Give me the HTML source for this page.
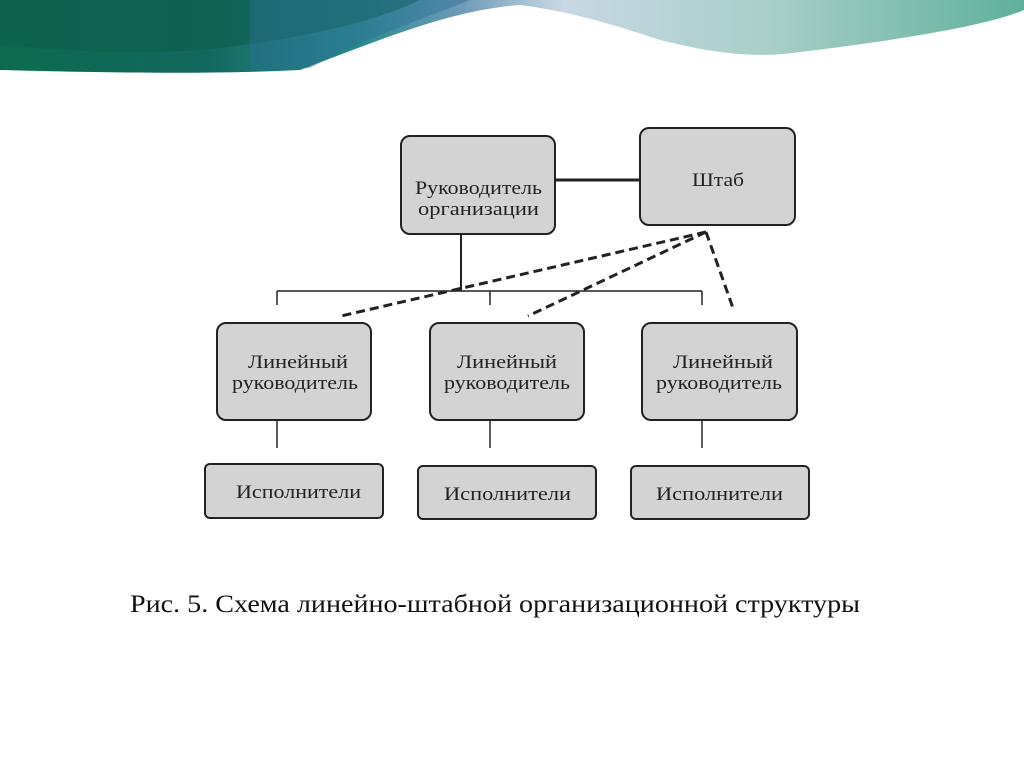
<!DOCTYPE html>
<html><head><meta charset="utf-8"><style>
html,body{margin:0;padding:0;width:1024px;height:768px;background:#fff;overflow:hidden}
svg{position:absolute;left:0;top:0}
</style></head><body>
<svg width="1024" height="768" viewBox="0 0 1024 768" font-family="Liberation Serif, serif">
<defs>
<linearGradient id="g1" x1="0" y1="0" x2="1" y2="0">
<stop offset="0" stop-color="#0d6a4e"/><stop offset="0.2" stop-color="#12685e"/><stop offset="0.35" stop-color="#2a8a8c"/><stop offset="0.45" stop-color="#6f9ab8"/><stop offset="0.55" stop-color="#c8d8e4"/><stop offset="0.75" stop-color="#a9cfc8"/><stop offset="1" stop-color="#5fb09c"/>
</linearGradient>
</defs>
<path d="M0 0 H1024 V10 C990 25 900 40 800 52 C760 58 720 55 660 40 C600 20 560 10 520 5 C450 10 380 40 300 70 C200 75 80 72 0 70 Z" fill="url(#g1)"/>
<path d="M0 0 H420 C380 20 300 40 200 50 C120 55 60 50 0 45 Z" fill="#0e5e4a" opacity="0.6"/>
<path d="M250 0 H470 C420 20 360 40 310 68 L250 70 Z" fill="#2c6f9a" opacity="0.45"/>

<g stroke="#222" stroke-width="2" fill="#d3d3d3">
<rect x="401" y="136" width="154" height="98" rx="9"/>
<rect x="640" y="128" width="155" height="97" rx="9"/>
<rect x="217" y="323" width="154" height="97" rx="9"/>
<rect x="430" y="323" width="154" height="97" rx="9"/>
<rect x="642" y="323" width="155" height="97" rx="9"/>
<rect x="205" y="464" width="178" height="54" rx="5"/>
<rect x="418" y="466" width="178" height="53" rx="5"/>
<rect x="631" y="466" width="178" height="53" rx="5"/>
</g>
<g stroke="#222" fill="none">
<line x1="555" y1="180" x2="640" y2="180" stroke-width="3"/>
<line x1="461" y1="234" x2="461" y2="291" stroke-width="2"/>
<line x1="277" y1="291" x2="702" y2="291" stroke-width="1.5"/>
<line x1="277" y1="291" x2="277" y2="305" stroke-width="1.5"/>
<line x1="490" y1="291" x2="490" y2="305" stroke-width="1.5"/>
<line x1="702" y1="291" x2="702" y2="305" stroke-width="1.5"/>
<line x1="277" y1="420" x2="277" y2="448" stroke-width="1.5"/>
<line x1="490" y1="420" x2="490" y2="448" stroke-width="1.5"/>
<line x1="702" y1="420" x2="702" y2="448" stroke-width="1.5"/>
<g stroke-width="3" stroke-dasharray="9,5">
<line x1="706" y1="232" x2="341" y2="316"/>
<line x1="706" y1="232" x2="528" y2="316"/>
<line x1="706" y1="232" x2="733" y2="308"/>
</g>
</g>
<g fill="#222" font-size="19">
<text x="415" y="194" textLength="127" lengthAdjust="spacingAndGlyphs">Руководитель</text>
<text x="418" y="215" textLength="121" lengthAdjust="spacingAndGlyphs">организации</text>
<text x="692" y="186" textLength="52" lengthAdjust="spacingAndGlyphs">Штаб</text>
<text x="248" y="368" textLength="100" lengthAdjust="spacingAndGlyphs">Линейный</text>
<text x="232" y="389" textLength="126" lengthAdjust="spacingAndGlyphs">руководитель</text>
<text x="457" y="368" textLength="100" lengthAdjust="spacingAndGlyphs">Линейный</text>
<text x="444" y="389" textLength="126" lengthAdjust="spacingAndGlyphs">руководитель</text>
<text x="673" y="368" textLength="100" lengthAdjust="spacingAndGlyphs">Линейный</text>
<text x="656" y="389" textLength="126" lengthAdjust="spacingAndGlyphs">руководитель</text>
<text x="236" y="498" textLength="125" lengthAdjust="spacingAndGlyphs">Исполнители</text>
<text x="444" y="500" textLength="127" lengthAdjust="spacingAndGlyphs">Исполнители</text>
<text x="656" y="500" textLength="127" lengthAdjust="spacingAndGlyphs">Исполнители</text>
</g>
<text x="130" y="612" font-size="25" fill="#111" textLength="730" lengthAdjust="spacingAndGlyphs">Рис. 5. Схема линейно-штабной организационной структуры</text>
</svg>
</body></html>
